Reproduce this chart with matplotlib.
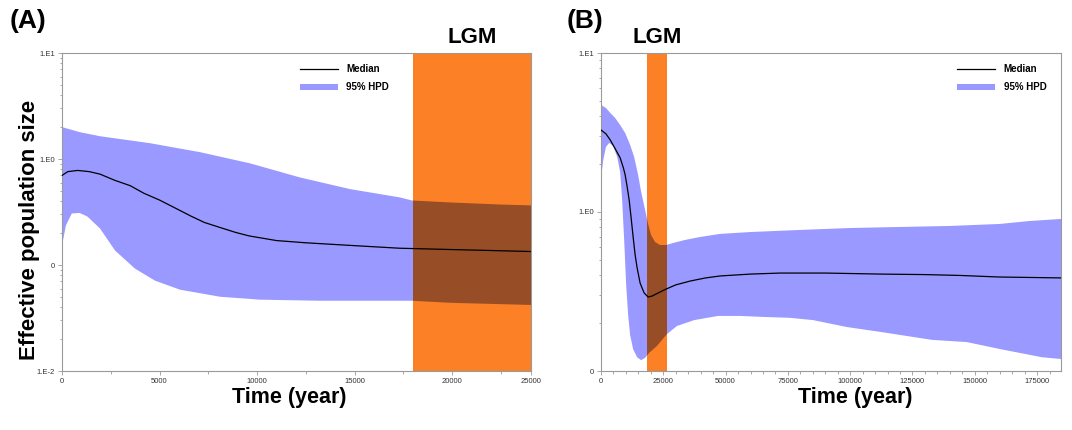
import numpy as np
import matplotlib
matplotlib.use("Agg")
import matplotlib.pyplot as plt
from matplotlib.ticker import FixedLocator, MultipleLocator, NullFormatter, LogLocator

plt.rcParams['font.family'] = ['Liberation Sans', 'DejaVu Sans']

# ---- panel A data (time in years, Ne on log scale) ----
a_med_t = [0, 300, 800, 1400, 1950, 2700, 3500, 4200, 5000, 5800, 6600, 7300, 8100,
           8900, 9600, 11000, 12500, 14800, 17300, 19900, 22000, 24050]
a_med = [0.70, 0.76, 0.78, 0.76, 0.72, 0.63, 0.56, 0.475, 0.41, 0.345, 0.29, 0.252, 0.226,
         0.203, 0.188, 0.170, 0.162, 0.153, 0.144, 0.140, 0.137, 0.134]
a_hi_t = [0, 920, 1950, 4510, 7080, 9640, 12200, 14770, 17330, 17950, 19900, 22460, 24050]
a_hi = [2.0, 1.79, 1.64, 1.41, 1.16, 0.91, 0.67, 0.52, 0.434, 0.406, 0.389, 0.372, 0.365]
a_lo_t = [0, 200, 500, 900, 1300, 1950, 2720, 3740, 4770, 6050, 8100, 10150, 13230,
          17950, 19900, 24050]
a_lo = [0.153, 0.236, 0.306, 0.31, 0.287, 0.221, 0.137, 0.0925, 0.0712, 0.0585, 0.0502,
        0.0471, 0.046, 0.046, 0.044, 0.042]
a_xmax = 24050
a_lgm = (18000, 26000)

# ---- panel B data ----
b_med_t = [0, 2000, 3700, 5500, 7700, 9000, 9700, 10500, 11300, 12100, 12900, 13700, 14500,
           15700, 17300, 18900, 20500, 23000, 26200, 30000, 35800, 42000, 47800, 60000,
           71900, 90000, 112000, 130000, 144000, 160000, 184600]
b_med = [3.28, 3.10, 2.84, 2.53, 2.19, 1.89, 1.71, 1.44, 1.19, 0.916, 0.696, 0.537, 0.445,
         0.357, 0.310, 0.292, 0.296, 0.310, 0.328, 0.348, 0.368, 0.385, 0.396, 0.407,
         0.413, 0.413, 0.407, 0.404, 0.399, 0.390, 0.385]
b_hi_t = [0, 2000, 3700, 5700, 7700, 9700, 11700, 13300, 14900, 16100, 17700, 18900, 20100,
          21700, 23700, 26100, 28900, 33700, 39700, 47700, 59800, 79800, 99900, 120000,
          140000, 160000, 172100, 184600]
b_hi = [4.71, 4.51, 4.20, 3.90, 3.52, 3.14, 2.64, 2.22, 1.71, 1.34, 1.03, 0.841, 0.716,
        0.647, 0.620, 0.620, 0.638, 0.667, 0.696, 0.728, 0.748, 0.771, 0.793, 0.805,
        0.817, 0.841, 0.878, 0.904]
b_lo_t = [0, 900, 2000, 3300, 4900, 6500, 7700, 8500, 9300, 10100, 10900, 11700, 12900,
          14500, 16100, 17700, 19300, 22500, 26500, 30500, 37400, 47000, 55800, 64600,
          75800, 85100, 98700, 112300, 132800, 146800, 154000, 160500, 168000, 177000, 184600]
b_lo = [1.64, 2.12, 2.57, 2.72, 2.60, 2.22, 1.78, 1.19, 0.667, 0.348, 0.225, 0.168, 0.137,
        0.122, 0.117, 0.121, 0.130, 0.144, 0.171, 0.192, 0.209, 0.222, 0.222, 0.219,
        0.216, 0.209, 0.189, 0.176, 0.157, 0.152, 0.144, 0.137, 0.130, 0.122, 0.119]
b_xmax = 184600
b_lgm = (18500, 26500)

HPD = '#9999ff'
ORANGE = '#fc8026'
BROWN = '#974d26'   # orange multiplied by the HPD colour
GREY = '#9a9a9a'

fig = plt.figure(figsize=(10.72, 4.3), dpi=100)
axA = fig.add_axes([62 / 1072, 59 / 430, 469 / 1072, 318 / 430])
axB = fig.add_axes([601 / 1072, 59 / 430, 460 / 1072, 318 / 430])


def draw_panel(ax, med_t, med, hi_t, hi, lo_t, lo, lgm, xmax):
    px = list(hi_t) + list(lo_t)[::-1]
    py = list(hi) + list(lo)[::-1]
    ax.fill(px, py, color=HPD, lw=0, zorder=1, label='95% HPD')
    span = ax.axvspan(lgm[0], lgm[1], color=ORANGE, lw=0, zorder=2)
    dark = ax.fill(px, py, color=BROWN, lw=0, zorder=3)[0]
    dark.set_clip_path(span)
    ax.plot(med_t, med, color='black', lw=0.9, zorder=4, label='Median')
    ax.set_yscale('log')
    ax.set_xlim(0, xmax)
    ax.yaxis.set_minor_locator(LogLocator(base=10, subs=np.arange(2, 10)))
    ax.yaxis.set_minor_formatter(NullFormatter())
    for s in ax.spines.values():
        s.set_color(GREY)
        s.set_linewidth(0.8)
    ax.tick_params(which='both', direction='out', color=GREY, width=0.6,
                   labelsize=5.5, labelcolor='#333333', pad=2)
    ax.tick_params(which='major', length=3)
    ax.tick_params(which='minor', length=1.8)
    mid = (lgm[0] + min(lgm[1], xmax)) / 2
    ax.text(mid, 1.048, 'LGM', transform=ax.get_xaxis_transform(), ha='center',
            va='center', fontsize=16, fontweight='bold')


draw_panel(axA, a_med_t, a_med, a_hi_t, a_hi, a_lo_t, a_lo, a_lgm, a_xmax)
axA.set_ylim(0.01, 10)
axA.yaxis.set_major_locator(FixedLocator([0.01, 0.1, 1, 10]))
axA.set_yticklabels(['1.E-2', '0', '1.E0', '1.E1'])
axA.set_xticks([0, 5000, 10000, 15000, 20000, a_xmax])
axA.set_xticklabels(['0', '5000', '10000', '15000', '20000', '25000'])
axA.xaxis.set_minor_locator(MultipleLocator(2500))

draw_panel(axB, b_med_t, b_med, b_hi_t, b_hi, b_lo_t, b_lo, b_lgm, b_xmax)
axB.set_ylim(0.1, 10)
axB.yaxis.set_major_locator(FixedLocator([0.1, 1, 10]))
axB.set_yticklabels(['0', '1.E0', '1.E1'])
axB.xaxis.set_major_locator(MultipleLocator(25000))
axB.xaxis.set_minor_locator(MultipleLocator(5000))
axB.xaxis.set_major_formatter(matplotlib.ticker.FuncFormatter(lambda v, p: '%d' % v))

for ax, x0 in ((axA, 0.507), (axB, 0.774)):
    h, l = ax.get_legend_handles_labels()
    order = [l.index('Median'), l.index('95% HPD')]
    ax.legend([h[i] for i in order], [l[i] for i in order], loc='upper left',
              bbox_to_anchor=(x0, 0.965), frameon=False, borderpad=0, borderaxespad=0,
              handlelength=3.9, handletextpad=0.9, labelspacing=0.85,
              prop={'size': 7, 'weight': 'bold'})

fig.text(10 / 1072, 1 - 21 / 430, '(A)', fontsize=19, fontweight='bold', va='center')
fig.text(567 / 1072, 1 - 21 / 430, '(B)', fontsize=19, fontweight='bold', va='center')
fig.text(30 / 1072, 1 - 230 / 430, 'Effective population size', rotation=90,
         fontsize=16, fontweight='bold', ha='center', va='center')
fig.text(289 / 1072, 1 - 398 / 430, 'Time (year)', fontsize=15.5, fontweight='bold',
         ha='center', va='center')
fig.text(855 / 1072, 1 - 398 / 430, 'Time (year)', fontsize=15.5, fontweight='bold',
         ha='center', va='center')

fig.savefig('out.png', dpi=100)
